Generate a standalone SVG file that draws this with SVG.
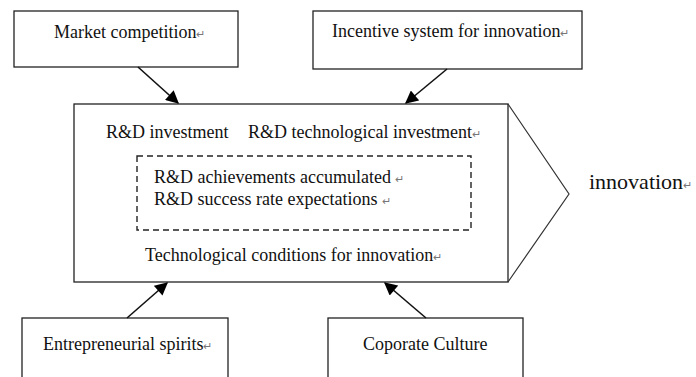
<svg xmlns="http://www.w3.org/2000/svg" width="696" height="377" viewBox="0 0 696 377">
<defs>
<style>
.box{fill:#fff;stroke:#222;stroke-width:1.3}
.t{font-family:"Liberation Serif","Times New Roman",serif;font-size:18px;fill:#111}
.m{font-size:11px;fill:#777}
.conn{stroke:#111;stroke-width:1.6;fill:none}
</style>
<marker id="ah" viewBox="0 0 10 10" refX="9" refY="5" markerWidth="14" markerHeight="13" markerUnits="userSpaceOnUse" orient="auto">
<path d="M0,0 L10,5 L0,10 z" fill="#000"/>
</marker>
</defs>
<rect width="696" height="377" fill="#fff"/>
<g id="market">
<rect class="box" x="14" y="11" width="224" height="56"/>
<text class="t" x="54" y="38">Market competition<tspan class="m">↵</tspan></text>
</g>
<g id="incentive">
<rect class="box" x="313" y="11" width="269" height="58"/>
<text class="t" x="332" y="37">Incentive system for innovation<tspan class="m">↵</tspan></text>
</g>
<g id="main">
<rect class="box" x="74" y="104" width="434" height="178"/>
<path d="M508,104 L569,194 L508,282" fill="none" stroke="#333" stroke-width="1.2"/>
<text class="t" x="106" y="138">R&amp;D investment<tspan x="248">R&amp;D technological investment</tspan><tspan class="m">↵</tspan></text>
<rect x="137" y="156" width="334" height="74" fill="none" stroke="#222" stroke-width="1.4" stroke-dasharray="6,4"/>
<text class="t" x="154" y="183">R&amp;D achievements accumulated <tspan class="m">↵</tspan></text>
<text class="t" x="154" y="205">R&amp;D success rate expectations <tspan class="m">↵</tspan></text>
<text class="t" x="145" y="261">Technological conditions for innovation<tspan class="m">↵</tspan></text>
</g>
<g id="innovation">
<text class="t" x="589" y="189" style="font-size:22px">innovation<tspan class="m">↵</tspan></text>
</g>
<g id="entrepreneurial">
<rect class="box" x="22" y="318" width="206" height="70"/>
<text class="t" x="43" y="350">Entrepreneurial spirits<tspan class="m">↵</tspan></text>
</g>
<g id="culture">
<rect class="box" x="328" y="318" width="195" height="70"/>
<text class="t" x="363" y="350">Coporate Culture</text>
</g>
<g id="connectors">
<line class="conn" x1="138" y1="67" x2="178" y2="103" marker-end="url(#ah)"/>
<line class="conn" x1="447" y1="69" x2="406" y2="103" marker-end="url(#ah)"/>
<line class="conn" x1="127" y1="318" x2="167" y2="283" marker-end="url(#ah)"/>
<line class="conn" x1="426" y1="318" x2="385" y2="283" marker-end="url(#ah)"/>
</g>
</svg>
